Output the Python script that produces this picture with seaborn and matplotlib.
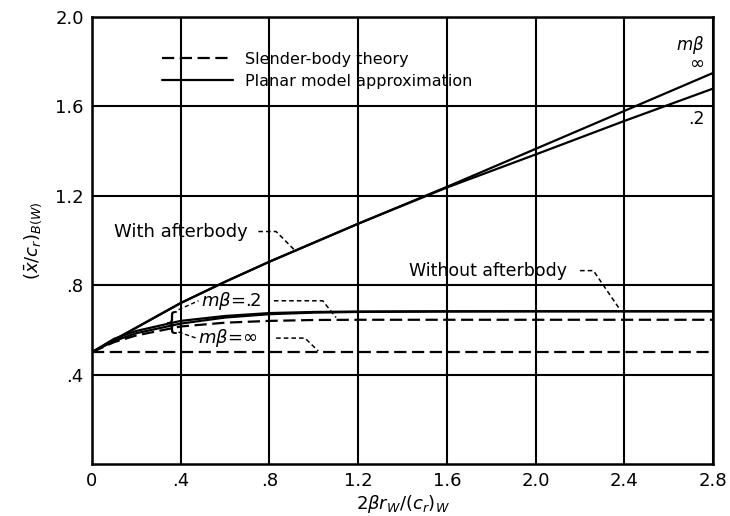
import numpy as np
import pandas as pd
import seaborn as sns
import matplotlib.pyplot as plt
from matplotlib.lines import Line2D

# abscissa 2*beta*r_W/(c_r)_W
x = [0, 0.1, 0.2, 0.4, 0.6, 0.8, 1.0, 1.2, 1.6, 2.0, 2.4, 2.8]

# with afterbody, planar model
with_inf = [0.5, 0.555, 0.61, 0.72, 0.815, 0.905, 0.99, 1.075, 1.24, 1.41, 1.58, 1.75]
with_02 = [0.5, 0.555, 0.61, 0.72, 0.815, 0.905, 0.99, 1.075, 1.237, 1.385, 1.535, 1.68]

# without afterbody, planar model
without_02 = [0.5, 0.56, 0.595, 0.64, 0.662, 0.675, 0.68, 0.682, 0.683, 0.683, 0.683, 0.683]
without_inf = [0.5, 0.55, 0.585, 0.628, 0.655, 0.67, 0.677, 0.68, 0.682, 0.683, 0.683, 0.683]

# slender-body theory
slender_02 = [0.5, 0.545, 0.575, 0.615, 0.632, 0.64, 0.644, 0.645, 0.645, 0.645, 0.645, 0.645]
slender_inf = [0.5, 0.5, 0.5, 0.5, 0.5, 0.5, 0.5, 0.5, 0.5, 0.5, 0.5, 0.5]

ticks = [0, 0.4, 0.8, 1.2, 1.6, 2.0, 2.4, 2.8]
xtick_labels = ["0", ".4", ".8", "1.2", "1.6", "2.0", "2.4", "2.8"]
yticks = [0.4, 0.8, 1.2, 1.6, 2.0]
ytick_labels = [".4", ".8", "1.2", "1.6", "2.0"]

sns.set_style("white")
plt.rcParams['font.family'] = ['DejaVu Sans']
plt.rcParams['text.color'] = 'black'
plt.rcParams['axes.labelcolor'] = 'black'
plt.rcParams['xtick.color'] = 'black'
plt.rcParams['ytick.color'] = 'black'

fig = plt.figure(figsize=(7.3, 5.16), dpi=100)
ax = fig.add_axes([0.126, 0.101, 0.851, 0.866])

dash = (0, (5.5, 2.5))
lead = (0, (3, 2))
for y in [with_inf, with_02, without_02, without_inf]:
    df = pd.DataFrame({"x": x, "y": y})
    sns.lineplot(data=df, x="x", y="y", ax=ax, color="black", lw=1.6,
                 label="_nolegend_")
for y in [slender_02, slender_inf]:
    df = pd.DataFrame({"x": x, "y": y})
    sns.lineplot(data=df, x="x", y="y", ax=ax, color="black", lw=1.6,
                 linestyle=dash, label="_nolegend_")

ax.set_xlim(0, 2.8)
ax.set_ylim(0, 2.0)
ax.set_xticks(ticks)
ax.set_xticklabels(xtick_labels, fontsize=13)
ax.set_yticks(yticks)
ax.set_yticklabels(ytick_labels, fontsize=13)
ax.tick_params(length=0, pad=6)
ax.grid(True, color="black", lw=1.5)
for s in ax.spines.values():
    s.set_color("black")
    s.set_linewidth(1.8)

ax.set_xlabel(r"$2\beta r_W/(c_r)_W$", fontsize=13, labelpad=2)
ax.set_ylabel(r"$(\bar{x}/c_r)_{B(W)}$", fontsize=13, labelpad=8)

handles = [Line2D([], [], color="black", lw=1.6, linestyle=dash),
           Line2D([], [], color="black", lw=1.6)]
ax.legend(handles, ["Slender-body theory", "Planar model approximation"],
          loc="upper left", bbox_to_anchor=(0.09, 0.955), frameon=False,
          handlelength=4.4, fontsize=11.5, labelspacing=0.45, handletextpad=0.8)

# annotations
ax.text(0.1, 1.04, "With afterbody", fontsize=13, ha="left", va="center")
ax.plot([0.75, 0.83, 0.92], [1.04, 1.04, 0.95], color="black", lw=1.1, ls=lead)
ax.text(1.43, 0.865, "Without afterbody", fontsize=12.5, ha="left", va="center")
ax.plot([2.2, 2.26, 2.38], [0.865, 0.865, 0.69], color="black", lw=1.1, ls=lead)
ax.text(0.49, 0.73, r"$m\beta$=.2", fontsize=13, ha="left", va="center")
ax.plot([0.82, 1.04, 1.1], [0.73, 0.73, 0.655], color="black", lw=1.1, ls=lead)
ax.plot([0.39, 0.48], [0.69, 0.73], color="black", lw=1.0, ls=lead)
ax.text(0.48, 0.563, r"$m\beta$=∞", fontsize=13, ha="left", va="center")
ax.plot([0.83, 0.96, 1.02], [0.563, 0.563, 0.505], color="black", lw=1.1, ls=lead)
ax.plot([0.39, 0.47], [0.59, 0.563], color="black", lw=1.0, ls=lead)
ax.text(0.36, 0.63, "{", fontsize=18, ha="center", va="center")

ax.text(2.76, 1.875, r"$m\beta$", fontsize=12, ha="right", va="center")
ax.text(2.76, 1.79, "∞", fontsize=13, ha="right", va="center")
ax.text(2.76, 1.545, ".2", fontsize=12.5, ha="right", va="center")

fig.savefig("out.png", dpi=100)
